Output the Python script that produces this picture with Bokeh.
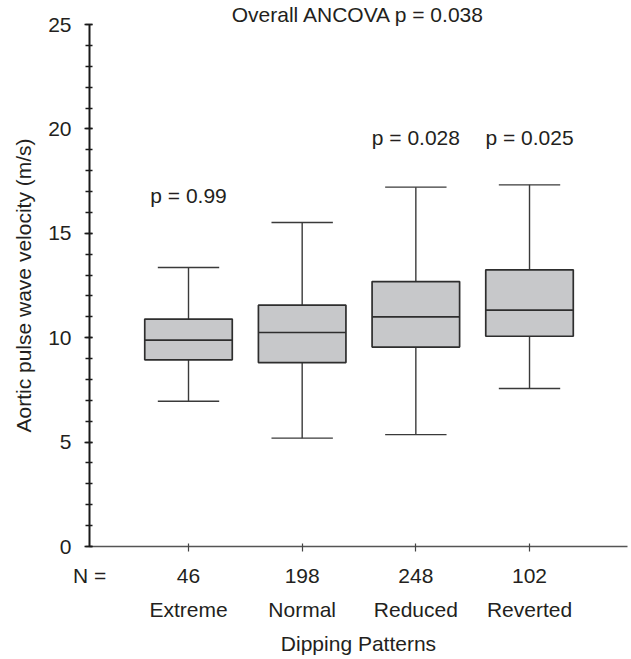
from bokeh.plotting import figure
from bokeh.models import Range1d, LinearAxis, FixedTicker, ColumnDataSource, Title
from bokeh.core.properties import value
from bokeh.embed import file_html
from bokeh.resources import INLINE

# ---- data ----
categories = ["Extreme", "Normal", "Reduced", "Reverted"]
n_counts = ["46", "198", "248", "102"]
whisker_low = [6.96, 5.19, 5.36, 7.57]
q1 = [8.94, 8.81, 9.55, 10.07]
median = [9.88, 10.25, 11.00, 11.32]
q3 = [10.89, 11.56, 12.69, 13.25]
whisker_high = [13.36, 15.52, 17.21, 17.32]
p_labels = ["p = 0.99", "p = 0.028", "p = 0.025"]
p_label_x = [1, 3, 4]
p_label_y = [16.8, 19.57, 19.57]
overall_label = "Overall ANCOVA p = 0.038"
y_ticks = [0, 5, 10, 15, 20, 25]

FONT = "Liberation Sans"
TXT = "#231f20"
FS = "21px"

xpos = [i + 1 for i in range(len(categories))]
box_w = 0.77
cap_w = 0.54

x_start, x_end = 0.129, 4.862
p = figure(frame_width=538, frame_height=522, output_backend="svg", toolbar_location=None,
           x_range=Range1d(x_start, x_end), y_range=Range1d(0, 25),
           min_border_left=89, min_border_top=24, min_border_right=4, min_border_bottom=113,
           x_axis_type=None, y_axis_type=None)
p.outline_line_color = None
p.grid.visible = False
p.background_fill_color = "white"

ttl = Title(text=overall_label, align="center", text_font=FONT, text_font_size=FS,
            text_font_style="normal", text_color=TXT, standoff=-3)
p.add_layout(ttl, "above")

src = ColumnDataSource(dict(
    x=xpos, low=whisker_low, q1=q1, med=median, q3=q3, high=whisker_high,
    cap_l=[x - cap_w / 2 for x in xpos], cap_r=[x + cap_w / 2 for x in xpos],
    box_l=[x - box_w / 2 for x in xpos], box_r=[x + box_w / 2 for x in xpos],
))

wc = "#3a3a3a"
p.segment("x", "q3", "x", "high", source=src, line_color=wc, line_width=1.4)
p.segment("x", "low", "x", "q1", source=src, line_color=wc, line_width=1.4)
p.segment("cap_l", "high", "cap_r", "high", source=src, line_color=wc, line_width=1.4)
p.segment("cap_l", "low", "cap_r", "low", source=src, line_color=wc, line_width=1.4)
p.vbar(x="x", width=box_w, bottom="q1", top="q3", source=src,
       fill_color="#c7c8ca", line_color="#2e2e2e", line_width=1.7)
p.segment("box_l", "med", "box_r", "med", source=src, line_color="#2e2e2e", line_width=1.7)

# p-value labels
p.text(x=p_label_x, y=p_label_y, text=p_labels, text_align="center",
       text_baseline="alphabetic", text_font=value(FONT), text_font_size=FS,
       text_color=TXT)

# ---- y axis ----
yax = LinearAxis(ticker=FixedTicker(ticks=y_ticks, minor_ticks=list(range(0, 26))))
yax.axis_line_color = "#1a1a1a"
yax.axis_line_width = 2
yax.major_tick_line_color = "#1a1a1a"
yax.minor_tick_line_color = "#1a1a1a"
yax.major_tick_line_width = 1.3
yax.minor_tick_line_width = 1.3
yax.major_tick_out = 5
yax.major_tick_in = 3
yax.minor_tick_out = 4
yax.minor_tick_in = 3
yax.major_label_standoff = 13
yax.major_label_text_font = FONT
yax.major_label_text_font_size = FS
yax.major_label_text_color = TXT
yax.axis_label = "Aortic pulse wave velocity (m/s)"
yax.axis_label_text_font = FONT
yax.axis_label_text_font_size = FS
yax.axis_label_text_font_style = "normal"
yax.axis_label_text_color = TXT
yax.axis_label_standoff = 10
p.add_layout(yax, "left")

# ---- x axis: tick marks row ----
xa = LinearAxis(ticker=FixedTicker(ticks=xpos, minor_ticks=[]))
xa.axis_line_color = "#555555"
xa.axis_line_width = 1.5
xa.major_tick_line_color = "#444444"
xa.major_tick_line_width = 1.2
xa.major_tick_out = 5
xa.major_tick_in = 3
xa.major_label_overrides = {x: "" for x in xpos}
xa.major_label_text_font_size = "1px"
xa.major_label_standoff = 0
p.add_layout(xa, "below")

# ---- x axis: N row ----
n_ticks = [x_start + 0.001] + xpos
xb = LinearAxis(ticker=FixedTicker(ticks=n_ticks, minor_ticks=[]))
xb.axis_line_color = None
xb.major_tick_line_color = None
xb.major_tick_out = 0
xb.major_tick_in = 0
ov = {n_ticks[0]: "N ="}
for x, c in zip(xpos, n_counts):
    ov[x] = c
xb.major_label_overrides = ov
xb.major_label_standoff = 12
xb.major_label_text_font = FONT
xb.major_label_text_font_size = FS
xb.major_label_text_color = TXT
p.add_layout(xb, "below")

# ---- x axis: category row + title ----
xc = LinearAxis(ticker=FixedTicker(ticks=xpos, minor_ticks=[]))
xc.axis_line_color = None
xc.major_tick_line_color = None
xc.major_tick_out = 0
xc.major_tick_in = 0
xc.major_label_overrides = {x: c for x, c in zip(xpos, categories)}
xc.major_label_standoff = 8
xc.major_label_text_font = FONT
xc.major_label_text_font_size = FS
xc.major_label_text_color = TXT
xc.axis_label = "Dipping Patterns"
xc.axis_label_text_font = FONT
xc.axis_label_text_font_size = FS
xc.axis_label_text_font_style = "normal"
xc.axis_label_text_color = TXT
xc.axis_label_standoff = 8
p.add_layout(xc, "below")

open("out.html", "w").write(file_html(p, INLINE))
